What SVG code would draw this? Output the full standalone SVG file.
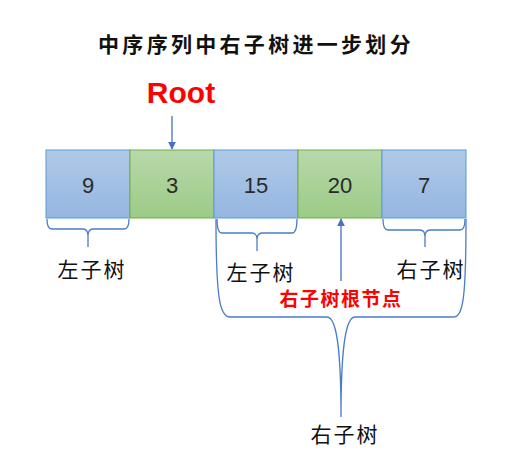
<svg xmlns="http://www.w3.org/2000/svg" width="512" height="467" viewBox="0 0 512 467">
<defs>
<linearGradient id="gb" x1="0" y1="0" x2="0" y2="1"><stop offset="0" stop-color="#b0c9e8"/><stop offset="1" stop-color="#95b6e0"/></linearGradient>
<linearGradient id="gg" x1="0" y1="0" x2="0" y2="1"><stop offset="0" stop-color="#b8d8aa"/><stop offset="1" stop-color="#9ccb86"/></linearGradient>
<marker id="ah" viewBox="0 0 10 10" refX="9" refY="5" markerWidth="8" markerHeight="8" markerUnits="userSpaceOnUse" orient="auto"><path d="M0,0 L10,5 L0,10 z" fill="#4472c4"/></marker>
</defs>
<style>
.blue{fill:url(#gb);stroke:#5b9bd5;stroke-width:1}
.green{fill:url(#gg);stroke:#70ad47;stroke-width:1}
.num{font-family:"Liberation Sans",Arial,sans-serif;font-size:22px;fill:#2a2a2a;text-anchor:middle}
.lbl{font-family:"Noto Sans CJK SC",sans-serif;font-size:21px;fill:#111;text-anchor:middle;letter-spacing:2px}
.brace{fill:none;stroke:#4a7cc9;stroke-width:1.3}
.arr{stroke:#4472c4;stroke-width:1.3;fill:none;marker-end:url(#ah)}
</style>
<rect width="512" height="467" fill="#fff"/>
<text x="256" y="52" font-family="Noto Sans CJK SC,sans-serif" font-size="21" font-weight="bold" text-anchor="middle" letter-spacing="3.3" fill="#111">中序序列中右子树进一步划分</text>
<text x="181" y="103" font-family="Liberation Sans,Arial,sans-serif" font-size="30" font-weight="bold" text-anchor="middle" fill="#ff0000">Root</text>
<g id="n9"><rect class="blue" x="46" y="150" width="84" height="68"/><text class="num" x="88" y="193">9</text></g>
<g id="n3"><rect class="green" x="130" y="150" width="84" height="68"/><text class="num" x="172" y="193">3</text></g>
<g id="n15"><rect class="blue" x="214" y="150" width="84" height="68"/><text class="num" x="256" y="193">15</text></g>
<g id="n20"><rect class="green" x="298" y="150" width="84" height="68"/><text class="num" x="340" y="193">20</text></g>
<g id="n7"><rect class="blue" x="382" y="150" width="84" height="68"/><text class="num" x="424" y="193">7</text></g>
<g id="connectors">
<path class="arr" d="M172,116 L172,149"/>
<path class="arr" d="M341,281 L341,219"/>
<path class="brace" d="M47,219 Q47,229 52,229 L83,229 Q88,229 88,236 L88,247 M88,236 Q88,229 93,229 L124,229 Q129,229 129,219"/>
<path class="brace" d="M217,219 Q217,233 222,233 L252,233 Q257,233 257,240 L257,251 M257,240 Q257,233 262,233 L292,233 Q297,233 297,219"/>
<path class="brace" d="M383,219 Q383,230 388,230 L420,230 Q425,230 425,237 L425,247 M425,237 Q425,230 430,230 L460,230 Q465,230 465,219"/>
<path class="brace" d="M216,219 C216,300 220,317 230,317 L327,317 C338,317 341,360 341,417 M341,417 C341,360 344,317 355,317 L453,317 C463,317 466,300 466,219"/>
</g>
<text class="lbl" x="92" y="277">左子树</text>
<text class="lbl" x="261" y="280">左子树</text>
<text class="lbl" x="431" y="277">右子树</text>
<text x="341" y="306" font-family="Noto Sans CJK SC,sans-serif" font-size="19" font-weight="bold" text-anchor="middle" letter-spacing="1.5" fill="#ff0000">右子树根节点</text>
<text class="lbl" x="345" y="442">右子树</text>
</svg>
